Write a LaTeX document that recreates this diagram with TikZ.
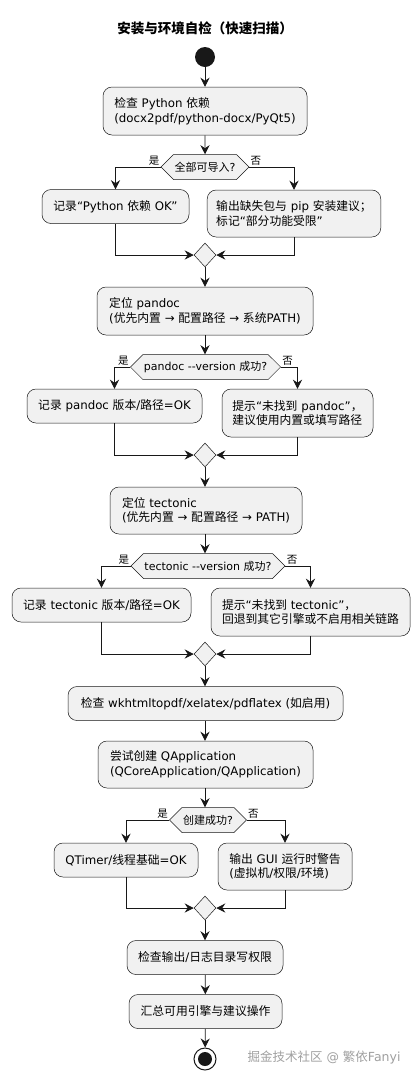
\documentclass[tikz,border=0pt]{standalone}
\usepackage{fontspec}
\setmainfont{DejaVu Sans}
\newfontfamily\cjkfont{Noto Sans CJK SC}
\usepackage{xcolor}
\usepackage{tikz}
\usetikzlibrary{shapes.geometric, shapes.symbols, arrows.meta}

% Han characters and full-width forms switch to the CJK family
\newXeTeXintercharclass\hanclass
\newcount\hanchar
\hanchar="4E00
\loop
  \XeTeXcharclass\hanchar=\hanclass
  \ifnum\hanchar<"9FFF \advance\hanchar by 1 \repeat
\hanchar="FF00
\loop
  \XeTeXcharclass\hanchar=\hanclass
  \ifnum\hanchar<"FFEF \advance\hanchar by 1 \repeat
\XeTeXinterchartoks 0 \hanclass = {\cjkfont}
\XeTeXinterchartoks 4095 \hanclass = {\cjkfont}
\XeTeXinterchartoks \hanclass 0 = {\rmfamily}
\XeTeXinterchartoks \hanclass 4095 = {\rmfamily}
\XeTeXinterchartokenstate=1

\definecolor{umlfill}{HTML}{F1F1F1}
\definecolor{umlline}{HTML}{181818}
\tikzstyle{actbox} = [rectangle, rounded corners=9pt,
fill=umlfill, draw=umlline, line width=0.5pt,
align=left, inner xsep=9pt, inner ysep=0pt,
minimum height=34pt, font=\fontsize{11.8}{14.5}\selectfont]
\tikzstyle{decbox} = [signal, signal to=west and east,
fill=umlfill, draw=umlline, line width=0.5pt,
inner xsep=1pt, inner ysep=0pt,
minimum height=25pt, font=\fontsize{11}{12}\selectfont]
\tikzstyle{mergebox} = [diamond, fill=umlfill, draw=umlline, line width=0.5pt,
inner sep=0pt, minimum width=22pt, minimum height=24pt]
\tikzstyle{branchlabel} = [font=\fontsize{10.5}{12}\selectfont, inner sep=1pt]
\tikzstyle{arrow} = [-{Stealth[length=9pt, width=9pt, inset=3pt]}, line width=0.8pt, draw=umlline]

\begin{document}
\begin{tikzpicture}[x=1pt, y=-1pt]
    \useasboundingbox (0,0) rectangle (420,1080);
    \node (title) [font=\bfseries\fontsize{13.5}{16}\selectfont] at (205,28) {安装与环境自检（快速扫描）};
    \node (start) [circle, fill=umlline, minimum size=20pt, inner sep=0pt] at (205,57) {};

    % python
    \node (py)     [actbox, minimum width=204pt, minimum height=48pt] at (205,111) {检查 Python 依赖\\(docx2pdf/python-docx/PyQt5)};
    \node (dpy)    [decbox] at (205,167) {全部可导入?};
    \node (pyok)   [actbox, minimum width=147pt] at (115.5,206.5) {记录“Python 依赖 OK”};
    \node (pyfail) [actbox, minimum width=170pt, minimum height=47pt] at (294,213.5) {输出缺失包与 pip 安装建议；\\标记“部分功能受限”};
    \node (mpy)    [mergebox] at (205,255) {};

    % pandoc
    \node (pd)     [actbox, minimum width=216pt, minimum height=48pt] at (205,311) {定位 pandoc\\(优先内置 → 配置路径 → 系统PATH)};
    \node (dpd)    [decbox] at (205.5,367) {pandoc -{}-version 成功?};
    \node (pdok)   [actbox, minimum width=175pt] at (114.5,406) {记录 pandoc 版本/路径=OK};
    \node (pdfail) [actbox, minimum width=151pt, minimum height=48pt] at (297.5,413) {提示“未找到 pandoc”，\\建议使用内置或填写路径};
    \node (mpd)    [mergebox] at (205,455) {};

    % tectonic
    \node (tc)     [actbox, minimum width=192pt, minimum height=47pt] at (206,510.5) {定位 tectonic\\(优先内置 → 配置路径 → PATH)};
    \node (dtc)    [decbox] at (208,566) {tectonic -{}-version 成功?};
    \node (tcok)   [actbox, minimum width=179pt] at (101.5,605) {记录 tectonic 版本/路径=OK};
    \node (tcfail) [actbox, minimum width=199pt, minimum height=48pt] at (310.5,612) {提示“未找到 tectonic”，\\回退到其它引擎或不启用相关链路};
    \node (mtc)    [mergebox] at (205,654) {};

    % other engines and Qt
    \node (eng)    [actbox, minimum width=275pt] at (205.5,703.5) {检查 wkhtmltopdf/xelatex/pdflatex (如启用)};
    \node (qt)     [actbox, minimum width=215pt, minimum height=47pt] at (205.5,764.5) {尝试创建 QApplication\\(QCoreApplication/QApplication)};
    \node (dqt)    [decbox] at (208,820) {创建成功?};
    \node (qtok)   [actbox, minimum width=144pt] at (126,860) {QTimer/线程基础=OK};
    \node (qtfail) [actbox, minimum width=134pt, minimum height=47pt] at (285,866.5) {输出 GUI 运行时警告\\(虚拟机/权限/环境)};
    \node (mqt)    [mergebox] at (205,908) {};

    \node (perm)    [actbox, minimum width=156pt] at (205,957.5) {检查输出/日志目录写权限};
    \node (summary) [actbox, minimum width=153pt] at (205.5,1011.5) {汇总可用引擎与建议操作};
    \node (stop)    [circle, draw=umlline, line width=1pt, fill=white, minimum size=22pt, inner sep=0pt] at (205,1059) {};
    \node (stopdot) [circle, fill=umlline, minimum size=14pt, inner sep=0pt] at (stop) {};
    \node (mark)    [font=\fontsize{12.5}{14}\selectfont, text=gray!75] at (324,1057) {掘金技术社区 @ 繁依Fanyi};

    \draw[arrow] (start) -- (py);
    \draw[arrow] (py) -- (dpy);
    \draw[arrow] (dpy.west) node[branchlabel, anchor=south east] {是} -| (pyok.north);
    \draw[arrow] (dpy.east) node[branchlabel, anchor=south west] {否} -| (pyfail.north);
    \draw[arrow] (pyok.south) |- (mpy.west);
    \draw[arrow] (pyfail.south) |- (mpy.east);
    \draw[arrow] (mpy) -- (pd);

    \draw[arrow] (pd.south) -- (pd.south |- dpd.north);
    \draw[arrow] (dpd.west) node[branchlabel, anchor=south east] {是} -| (pdok.north);
    \draw[arrow] (dpd.east) node[branchlabel, anchor=south west] {否} -| (pdfail.north);
    \draw[arrow] (pdok.south) |- (mpd.west);
    \draw[arrow] (pdfail.south) |- (mpd.east);
    \draw[arrow] (mpd.south) -- (mpd.south |- tc.north);

    \draw[arrow] (mpd.south |- tc.south) -- (mpd.south |- dtc.north);
    \draw[arrow] (dtc.west) node[branchlabel, anchor=south east] {是} -| (tcok.north);
    \draw[arrow] (dtc.east) node[branchlabel, anchor=south west] {否} -| (tcfail.north);
    \draw[arrow] (tcok.south) |- (mtc.west);
    \draw[arrow] (tcfail.south) |- (mtc.east);
    \draw[arrow] (mtc.south) -- (mtc.south |- eng.north);

    \draw[arrow] (mtc.south |- eng.south) -- (mtc.south |- qt.north);
    \draw[arrow] (mtc.south |- qt.south) -- (mtc.south |- dqt.north);
    \draw[arrow] (dqt.west) node[branchlabel, anchor=south east] {是} -| (qtok.north);
    \draw[arrow] (dqt.east) node[branchlabel, anchor=south west] {否} -| (qtfail.north);
    \draw[arrow] (qtok.south) |- (mqt.west);
    \draw[arrow] (qtfail.south) |- (mqt.east);
    \draw[arrow] (mqt) -- (perm);
    \draw[arrow] (perm) -- (summary);
    \draw[arrow] (summary) -- (stop);
\end{tikzpicture}
\end{document}
